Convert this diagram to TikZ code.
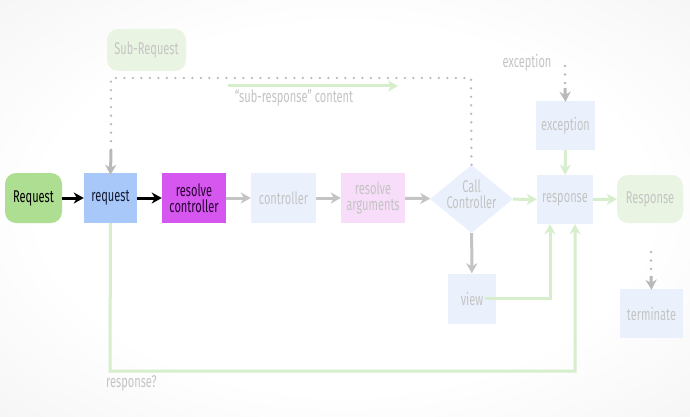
\documentclass[tikz,border=0pt]{standalone}
\usepackage{fontspec}
\setmainfont[FakeStretch=0.65]{Fira Sans}
\usetikzlibrary{arrows.meta,shapes.geometric}
\definecolor{bggray}{RGB}{236,236,236}
\definecolor{reqgreen}{RGB}{174,222,146}
\definecolor{reqblue}{RGB}{168,200,250}
\definecolor{rcmag}{RGB}{214,86,240}
\definecolor{fadeblue}{RGB}{235,241,252}
\definecolor{fadepink}{RGB}{247,221,250}
\definecolor{fadegreen}{RGB}{233,245,226}
\definecolor{fadetext}{RGB}{196,196,196}
\definecolor{arrgray}{RGB}{196,196,196}
\definecolor{arrgreen}{RGB}{214,238,204}
\definecolor{dotgray}{RGB}{185,185,185}
\pgfdeclareradialshading{bgshade}{\pgfpoint{0bp}{0bp}}{color(0bp)=(white); color(22bp)=(white); color(50bp)=(bggray); color(72bp)=(bggray)}
\tikzset{
  box/.style={rectangle, inner sep=0pt, minimum height=50, align=center},
  startbox/.style={rectangle, rounded corners=11, inner sep=0pt, minimum height=50, align=center},
  blk/.style={line width=3, black, -{Stealth[length=10, width=11, inset=3]}},
  gry/.style={line width=3, arrgray, -{Stealth[length=10, width=11, inset=3]}},
  grn/.style={line width=3, arrgreen, -{Stealth[length=10, width=11, inset=3]}},
  dotg/.style={line width=2.6, dotgray, line cap=round, dash pattern=on 0pt off 8.5pt},
  dottip/.style={line width=3, dotgray, -{Stealth[length=10, width=11, inset=3]}},
}
\begin{document}
\begin{tikzpicture}[x=1pt, y=-1pt, font=\fontsize{17}{15.5}\selectfont]
\shade[shading=bgshade] (0,0) rectangle (690,417);
\useasboundingbox (0,0) rectangle (690,417);

\node[startbox, fill=reqgreen, minimum width=57, text=black] (Req) at (33.5,198) {Request};
\node[box, fill=reqblue, minimum width=53, text={rgb,255:red,20;green,25;blue,50}] (req) at (110.5,198) {request};
\node[box, fill=rcmag, minimum width=64, text={rgb,255:red,40;green,0;blue,50}] (rc) at (194,198) {resolve\\controller};
\node[box, fill=fadeblue, minimum width=65, text=fadetext] (ctl) at (283.5,198) {controller};
\node[box, fill=fadepink, minimum width=64, text=fadetext] (ra) at (373,198) {resolve\\arguments};
\node[diamond, fill=fadeblue, minimum width=83, minimum height=68, inner sep=0pt,
  label={[name=cclbl, text=fadetext, align=center, inner sep=0pt, yshift=5]center:Call\\Controller}] (cc) at (471.5,199) {};
\node[box, fill=fadeblue, minimum width=56, minimum height=49, text=fadetext] (resp) at (565,199.5) {response};
\node[startbox, fill=fadegreen, minimum width=66, minimum height=48, text=fadetext] (Resp) at (650,199) {Response};
\node[box, fill=fadeblue, minimum width=59, minimum height=49, text=fadetext] (exc) at (565.5,125.5) {exception};
\node[box, fill=fadeblue, minimum width=48, text=fadetext] (view) at (472,298.5) {view};
\node[box, fill=fadeblue, minimum width=63, minimum height=49, text=fadetext] (term) at (651.5,313.5) {terminate};
\node[startbox, fill=fadegreen, minimum width=79, minimum height=42, text=fadetext] (sub) at (146.5,50) {Sub-Request};

\node[text=fadetext, inner sep=0pt] (exclbl) at (527,63) {exception};
\node[text=fadetext, anchor=west, inner sep=0pt] (resplbl) at (106,383) {response?};
\node[text=fadetext, inner sep=0pt] (sublbl) at (294,98) {“sub-response” content};

\coordinate (dtr) at (471,78);
\coordinate (dtl) at (111,78);
\coordinate (dtlb) at (111,150);
\coordinate (excdot) at (565,66);
\coordinate (excdotb) at (565,88);
\coordinate (termdot) at (651,252);
\coordinate (termdotb) at (651,276);
\coordinate (ga1) at (228,86);
\coordinate (ga2) at (398,86);
\coordinate (b1) at (110,371);
\coordinate (b2) at (575,371);

% main flow
\draw[blk] (Req) -- (req);
\draw[blk] (req) -- (rc);
\draw[gry] (rc) -- (ctl);
\draw[gry] (ctl) -- (ra);
\draw[gry] (ra) -- (cc);
\draw[grn] (cc) -- (resp);
\draw[grn] (resp) -- (Resp);
\draw[grn] (exc) -- (resp);
\draw[gry] (cc) -- (view);

% view to response
\draw[grn] ([xshift=-11]view.east) -| ([xshift=-15]resp.south);
% response? loop
\draw[grn] (req.south) -- (b1) -- (b2) -- (b2 |- resp.south);

% sub-request dotted loop
\draw[dotg] (cc.north) -- (dtr) -- (dtl) -- (dtlb);
\draw[dottip] (dtlb) -- ([yshift=-2]req.north);
\draw[grn] (ga1) -- (ga2);

% exception dotted
\draw[dotg] (excdot) -- (excdotb);
\draw[dottip] (excdotb) -- ([yshift=-1]exc.north);

% terminate dotted
\draw[dotg] (termdot) -- (termdotb);
\draw[dottip] (termdotb) -- ([yshift=-1]term.north);
\end{tikzpicture}
\end{document}
